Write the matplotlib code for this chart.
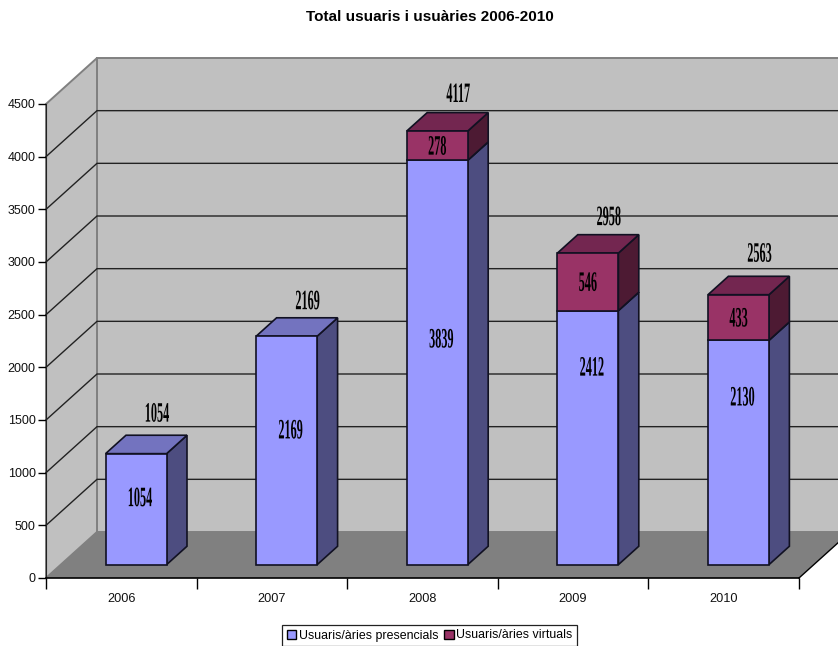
import matplotlib
matplotlib.use("Agg")
import matplotlib.pyplot as plt
import matplotlib.patheffects as pe
from matplotlib.patches import Patch, Polygon
from matplotlib.transforms import Affine2D

years = ["2006", "2007", "2008", "2009", "2010"]
presencials = [1054, 2169, 3839, 2412, 2130]
virtuals = [0, 0, 278, 546, 433]
totals = [1054, 2169, 4117, 2958, 2563]
y_ticks = [0, 500, 1000, 1500, 2000, 2500, 3000, 3500, 4000, 4500]

# label shifts in pixels, measured from the bars
inner_shift = [(4, 12), (4, 21), (4, 24), (4, 71), (4, 56)]
top_gap = [32, 27, 29, 28, 33]

W, H = 838, 646
X0, X1, Y0, Y1 = 46, 799, 578, 104
PX_X = 5 / (X1 - X0)
PX_Y = 4500 / (Y0 - Y1)
DEPTH_X = 51 * PX_X
DEPTH_Y = 46 * PX_Y
BAR_W = 61 * PX_X
BAR_START = 0.29
BAR_END = 0.69


class Squeezed(pe.AbstractPathEffect):
    # the labels in the original are stretched upwards
    def __init__(self, sy):
        super().__init__()
        self.sy = sy

    def draw_path(self, renderer, gc, tpath, affine, rgbFace=None):
        renderer.draw_path(gc, tpath, Affine2D().scale(1, self.sy) + affine, rgbFace)


def poly(ax, pts, color, edge="none", lw=0.0, z=1):
    ax.add_patch(Polygon(pts, closed=True, facecolor=color, edgecolor=edge, linewidth=lw, clip_on=False, zorder=z, joinstyle="miter"))


def block(ax, x, y0, y1, front, side, top, z):
    x2 = x + BAR_W
    dx = (BAR_END - BAR_START) * DEPTH_X
    dy = (BAR_END - BAR_START) * DEPTH_Y
    poly(ax, [(x2, y0), (x2 + dx, y0 + dy), (x2 + dx, y1 + dy), (x2, y1)], side, "#111122", 1.2, z)
    poly(ax, [(x, y1), (x2, y1), (x2 + dx, y1 + dy), (x + dx, y1 + dy)], top, "#111122", 1.2, z)
    poly(ax, [(x, y0), (x2, y0), (x2, y1), (x, y1)], front, "#111122", 1.2, z)


plt.rcParams["font.family"] = ["Liberation Sans", "DejaVu Sans"]
fig = plt.figure(figsize=(W / 100, H / 100), dpi=100)
ax = fig.add_axes([X0 / W, 1 - Y0 / H, (X1 - X0) / W, (Y0 - Y1) / H])
ax.set_xlim(0, 5)
ax.set_ylim(0, 4500)
ax.patch.set_visible(False)

# walls and floor
right = 5 + DEPTH_X
poly(ax, [(DEPTH_X, DEPTH_Y), (right, DEPTH_Y), (right, 4500 + DEPTH_Y), (DEPTH_X, 4500 + DEPTH_Y)], "#C0C0C0", "#808080", 1.4, 1)
poly(ax, [(0, 0), (DEPTH_X, DEPTH_Y), (DEPTH_X, 4500 + DEPTH_Y), (0, 4500)], "#C0C0C0", "#808080", 1.4, 1)
poly(ax, [(0, 0), (5, 0), (right, DEPTH_Y), (DEPTH_X, DEPTH_Y)], "#808080", z=1.2)
ax.plot([5, right], [0, DEPTH_Y], color="black", lw=1.0, clip_on=False, zorder=1.3)

for t in y_ticks[1:-1]:
    ax.plot([0, DEPTH_X, right], [t, t + DEPTH_Y, t + DEPTH_Y], color="#222222", lw=1.0, clip_on=False, zorder=1.1, solid_joinstyle="miter")

label_font = dict(family="Liberation Serif", fontweight="bold", fontsize=8.8, color="black", ha="center", va="baseline", zorder=20, clip_on=False,
                  path_effects=[Squeezed(2.3)])

for i, year in enumerate(years):
    x = i + 0.5 - BAR_W / 2 + BAR_START * DEPTH_X
    y_base = BAR_START * DEPTH_Y
    y_mid = y_base + presencials[i]
    block(ax, x, y_base, y_mid, "#9999FF", "#4D4D80", "#7373BF", 5 + i)
    if virtuals[i]:
        block(ax, x, y_mid, y_mid + virtuals[i], "#993366", "#4D1A33", "#732650", 5.5 + i)

    cx = x + BAR_W / 2
    sx, sy = inner_shift[i]
    ax.text(cx + sx * PX_X, y_base + presencials[i] / 2 + (sy - 9) * PX_Y, str(presencials[i]), **label_font)
    if virtuals[i]:
        ax.text(cx, y_mid + virtuals[i] / 2 - 9 * PX_Y, str(virtuals[i]), **label_font)
    ax.text(cx + 21 * PX_X, y_base + totals[i] + top_gap[i] * PX_Y, str(totals[i]), **label_font)

ax.set_yticks(y_ticks)
ax.set_xticks(range(6))
ax.set_xticklabels([])
ax.set_xticks([i + 0.5 for i in range(5)], minor=True)
ax.set_xticklabels(years, minor=True, fontsize=9.2, color="#111111")
ax.tick_params(axis="x", which="major", length=8, width=1, color="black")
ax.tick_params(axis="x", which="minor", length=0, pad=11)
ax.tick_params(axis="y", length=6, width=1, labelsize=9.0, pad=1.5, labelcolor="#111111")
for s in ["top", "right"]:
    ax.spines[s].set_visible(False)
ax.spines["left"].set_color("#222222")
ax.spines["bottom"].set_linewidth(1.2)

fig.text(430 / W, 1 - 17 / H, "Total usuaris i usuàries 2006-2010", ha="center", va="center", fontsize=11, fontweight="bold")

handles = [Patch(facecolor="#9999FF", edgecolor="black", label="Usuaris/àries presencials"),
           Patch(facecolor="#993366", edgecolor="black", label="Usuaris/àries virtuals")]
legend = fig.legend(handles=handles, loc="center", bbox_to_anchor=(429.5 / W, 1 - 635.5 / H), ncol=2, fontsize=8.95, frameon=True, fancybox=False,
                    edgecolor="#222222", framealpha=1, borderpad=0.35, handlelength=0.75, handleheight=0.75, handletextpad=0.2, columnspacing=0.5, borderaxespad=0)
legend.get_frame().set_linewidth(0.9)

fig.savefig("out.png", dpi=100)
